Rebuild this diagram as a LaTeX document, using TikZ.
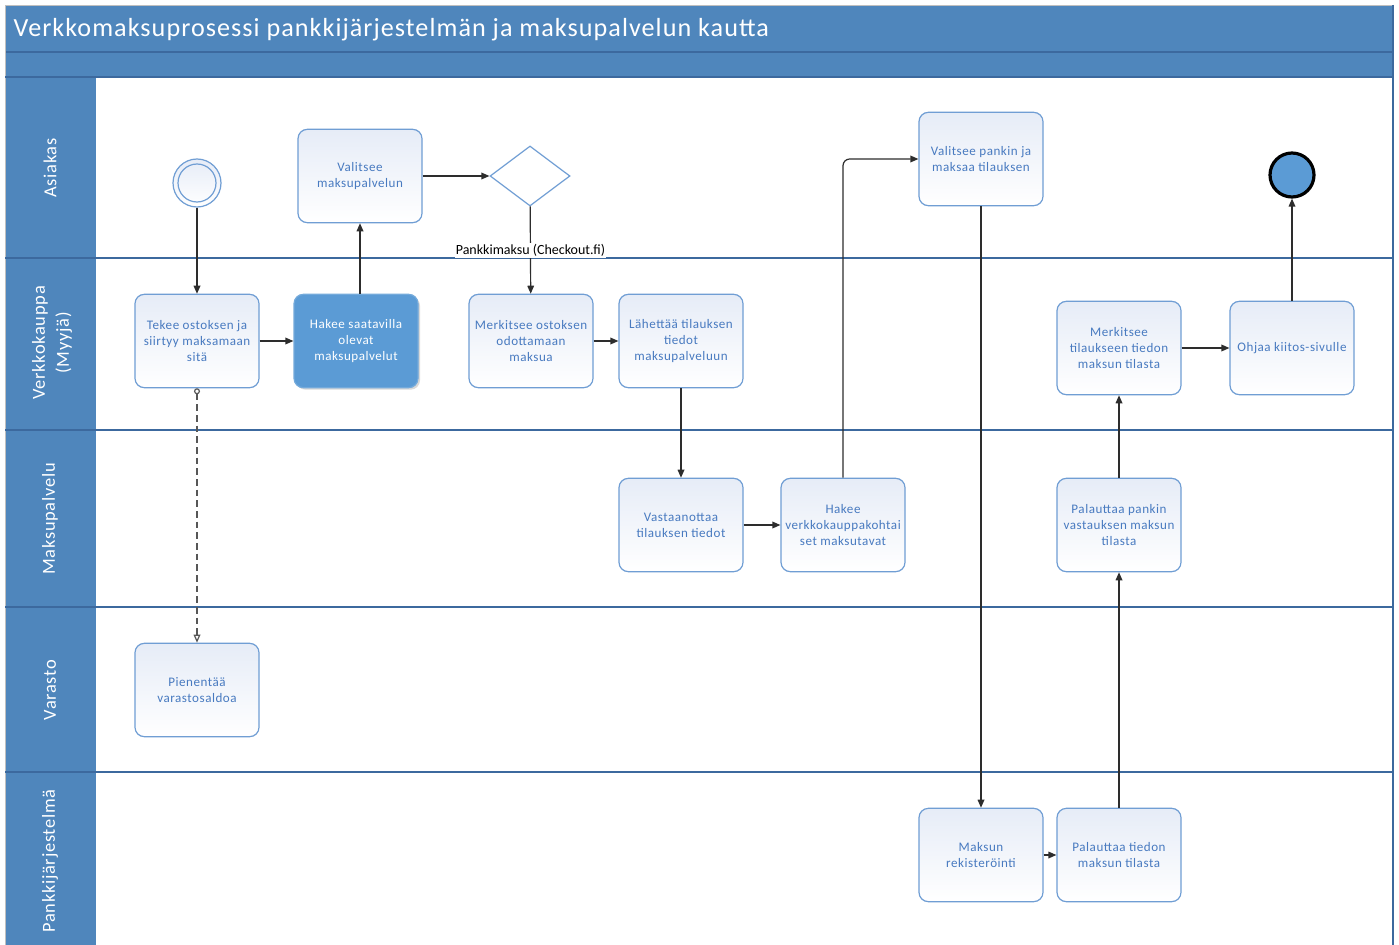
\documentclass[tikz,border=0pt]{standalone}
\usepackage{fontspec}
\setmainfont{Carlito}
\newfontfamily\spacedfont[LetterSpace=4]{Carlito}
\usetikzlibrary{arrows.meta,shapes.geometric,shadows}
\definecolor{lane}{RGB}{79,134,188}
\definecolor{laneline}{RGB}{60,105,158}
\definecolor{boxline}{RGB}{112,158,212}
\definecolor{boxtext}{RGB}{72,122,192}
\definecolor{boxtop}{RGB}{230,236,247}
\definecolor{active}{RGB}{91,155,213}
\definecolor{conn}{RGB}{45,45,45}
\begin{document}
\begin{tikzpicture}[x=0.75pt,y=-0.75pt,
  task/.style={draw=boxline, line width=0.9pt, rounded corners=7pt, top color=boxtop, bottom color=white,
    minimum width=93pt, minimum height=70pt, align=center, font=\spacedfont\fontsize{9.8}{12}\selectfont, text=boxtext, inner sep=1pt},
  activetask/.style={task, fill=active, top color=active, bottom color=active, draw=active!85!white, text=white,
    drop shadow={opacity=0.3, shadow xshift=1.5pt, shadow yshift=-1.5pt}},
  lanelabel/.style={rotate=90, text=white, align=center, font=\spacedfont\fontsize{13.8}{18}\selectfont},
  flow/.style={draw=conn, line width=0.9pt, -{Triangle[length=6pt,width=5pt]}},
  assoc/.style={draw=conn!80!white, line width=0.9pt, dashed, dash pattern=on 5pt off 3pt,
    {Circle[open,length=4.5pt,width=4.5pt]}-{Triangle[open,length=6pt,width=5pt]}},
  sep/.style={draw=laneline, line width=1.1pt}]
\useasboundingbox (0,0) rectangle (1399,945);
\fill[white] (0,0) rectangle (1399,945);
% pool header
\fill[lane] (5,5) rectangle (1393,77);
\draw[laneline, line width=0.8pt] (5,52) -- (1393,52);
\fill[lane] (5,77) rectangle (96,945);
\draw[draw=gray!50, line width=0.6pt] (5,945) -- (5,5) -- (1393,5);
\draw[sep] (1393,5) -- (1393,945);
\foreach \yy in {77,258,430,607,772} {\draw[sep] (5,\yy) -- (1393,\yy);}
\node[anchor=west, text=white, font=\spacedfont\fontsize{19.6}{24}\selectfont] (title) at (9,30) {Verkkomaksuprosessi pankkijärjestelmän ja maksupalvelun kautta};
% lane labels
\node[lanelabel] (l1) at (50,168) {Asiakas};
\node[lanelabel] (l2) at (52,343) {Verkkokauppa\\(Myyjä)};
\node[lanelabel] (l3) at (50,519) {Maksupalvelu};
\node[lanelabel] (l4) at (50,690) {Varasto};
\node[lanelabel] (l5) at (50,861) {Pankkijärjestelmä};
% events and gateway
\node[circle, draw=boxline, line width=0.9pt, minimum size=36pt, inner sep=0pt, top color=boxtop, bottom color=white] (start) at (197,183) {};
\node[circle, draw=boxline, line width=0.9pt, minimum size=28.5pt, inner sep=0pt] (startin) at (197,183) {};
\node[circle, draw=black, line width=2.4pt, fill=active, minimum size=33pt, inner sep=0pt,
  drop shadow={opacity=0.2, shadow xshift=1pt, shadow yshift=-1pt}] (end) at (1292,175) {};
\node[diamond, draw=boxline, line width=0.9pt, minimum width=60pt, minimum height=45pt, inner sep=0pt, fill=white] (gw) at (530,176) {};
% tasks
\node[task] (valm) at (360,176) {Valitsee\\maksupalvelun};
\node[task] (vpan) at (981,159) {Valitsee pankin ja\\maksaa tilauksen};
\node[task] (tekee) at (197,341) {Tekee ostoksen ja\\siirtyy maksamaan\\sitä};
\node[activetask] (hakee) at (356,341) {Hakee saatavilla\\olevat\\maksupalvelut};
\node[task] (merk) at (531,341) {Merkitsee ostoksen\\odottamaan\\maksua};
\node[task] (lah) at (681,341) {Lähettää tilauksen\\tiedot\\maksupalveluun};
\node[task] (mtil) at (1119,348) {Merkitsee\\tilaukseen tiedon\\maksun tilasta};
\node[task] (ohj) at (1292,348) {Ohjaa kiitos-sivulle};
\node[task] (vast) at (681,525) {Vastaanottaa\\tilauksen tiedot};
\node[task] (hver) at (843,525) {Hakee\\verkkokauppakohtai\\set maksutavat};
\node[task] (ppank) at (1119,525) {Palauttaa pankin\\vastauksen maksun\\tilasta};
\node[task] (pien) at (197,690) {Pienentää\\varastosaldoa};
\node[task] (rek) at (981,855) {Maksun\\rekisteröinti};
\node[task] (ptied) at (1119,855) {Palauttaa tiedon\\maksun tilasta};
% connectors
\draw[flow] (start) -- (tekee);
\draw[flow] (tekee) -- (hakee);
\draw[flow] (hakee.north -| valm.south) -- (valm.south);
\draw[flow] (valm) -- (gw);
\draw[flow] (gw) -- node[pos=0.5, fill=white, text=black, inner sep=1pt, font=\fontsize{10.5}{12}\selectfont] (lbl) {Pankkimaksu (Checkout.fi)} (merk);
\draw[flow] (merk) -- (lah);
\draw[flow] (lah) -- (vast);
\draw[flow] (vast) -- (hver);
\draw[flow, rounded corners=5pt] (hver.north) |- (vpan.west);
\draw[flow] (vpan) -- (rek);
\draw[flow] (rek) -- (ptied);
\draw[flow] (ptied) -- (ppank);
\draw[flow] (ppank) -- (mtil);
\draw[flow] (mtil) -- (ohj);
\draw[flow] (ohj) -- (end);
\draw[assoc] (tekee) -- (pien);
\end{tikzpicture}
\end{document}
